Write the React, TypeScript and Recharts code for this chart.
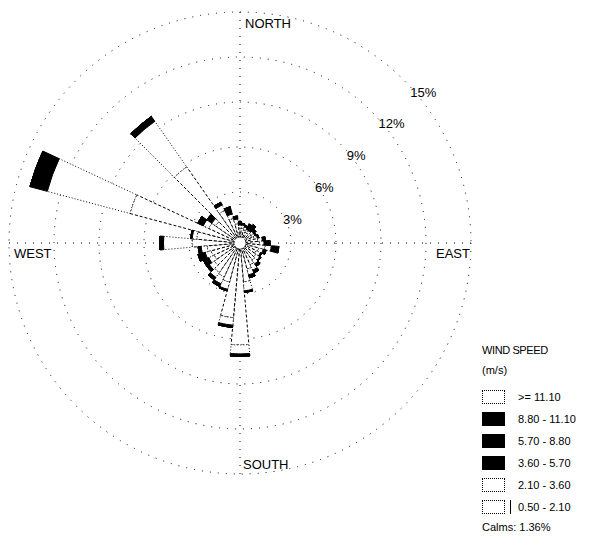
import React from 'react';
import { RadialBarChart, RadialBar, PolarAngleAxis, PolarRadiusAxis, PolarGrid, Legend } from 'recharts';

// Wind direction bins (degrees, blowing from)
const directions = [0, 10, 20, 30, 40, 50, 60, 70, 80, 90, 100, 110, 120, 130, 140, 150, 160, 170,
  180, 190, 200, 210, 220, 230, 240, 250, 260, 270, 280, 290, 300, 310, 320, 330, 340, 350];

// Frequency (%) per speed class, per direction
const speed0521 = [0.6, 0.6, 0.5, 0.4, 0.4, 0.5, 0.5, 0.6, 0.8, 0.9, 1.3, 0.9, 0.8, 0.9, 1.0, 1.2, 1.4, 2.2,
  6.4, 4.6, 2.3, 2.1, 2.0, 1.7, 1.5, 1.6, 1.8, 2.8, 2.5, 7.2, 1.9, 1.6, 5.8, 2.0, 1.3, 0.9];
const speed2136 = [0.2, 0.2, 0.2, 0.2, 0.2, 0.2, 0.2, 0.2, 0.3, 0.3, 0.4, 0.3, 0.3, 0.3, 0.3, 0.4, 0.4, 0.6,
  0.6, 0.5, 0.5, 0.5, 0.4, 0.4, 0.4, 0.4, 0.4, 1.9, 0.3, 5.7, 0.4, 0.3, 3.7, 0.4, 0.3, 0.3];
const speed3657 = [0.2, 0.1, 0.1, 0.3, 0.4, 0.2, 0.1, 0.1, 0.2, 0.3, 0.4, 0.2, 0.1, 0.1, 0.2, 0.2, 0.2, 0.1,
  0.15, 0.15, 0.1, 0.2, 0.2, 0.2, 0.4, 0.5, 0.2, 0.25, 0.1, 1.0, 0.4, 0.4, 0.4, 0.2, 0.5, 0.2];
const speed5788 = [0, 0, 0, 0.1, 0.1, 0, 0, 0, 0, 0.1, 0.1, 0, 0, 0, 0, 0, 0, 0,
  0, 0, 0, 0, 0, 0, 0, 0, 0, 0, 0, 0.2, 0, 0, 0, 0, 0, 0];
const speed88111 = [0, 0, 0, 0, 0, 0, 0, 0, 0, 0, 0, 0, 0, 0, 0, 0, 0, 0,
  0, 0, 0, 0, 0, 0, 0, 0, 0, 0, 0, 0, 0, 0, 0, 0, 0, 0];
const speed111 = [0, 0, 0, 0, 0, 0, 0, 0, 0, 0, 0, 0, 0, 0, 0, 0, 0, 0,
  0, 0, 0, 0, 0, 0, 0, 0, 0, 0, 0, 0, 0, 0, 0, 0, 0, 0];

const radiusTicks = [3, 6, 9, 12, 15];
const compassLabels: Record<number, string> = { 0: 'NORTH', 90: 'EAST', 180: 'SOUTH', 270: 'WEST' };
const legendTitle = 'WIND SPEED';
const legendUnit = '(m/s)';
const calmsText = 'Calms: 1.36%';

const speedClasses = [
  { key: 'c6', label: '>= 11.10', fill: '#fff', dash: '1 2' },
  { key: 'c5', label: '8.80 - 11.10', fill: '#000', dash: undefined },
  { key: 'c4', label: '5.70 - 8.80', fill: '#000', dash: undefined },
  { key: 'c3', label: '3.60 - 5.70', fill: '#000', dash: undefined },
  { key: 'c2', label: '2.10 - 3.60', fill: '#fff', dash: '1 2' },
  { key: 'c1', label: '0.50 - 2.10', fill: '#fff', dash: '3 2' },
];

const data = directions.map((d, i) => ({
  dir: d,
  c1: speed0521[i],
  c2: speed2136[i],
  c3: speed3657[i],
  c4: speed5788[i],
  c5: speed88111[i],
  c6: speed111[i],
}));

const FONT = "'Liberation Sans', Arial, sans-serif";
const CX = 232;
const CY = 235;
const OUTER = 231;

const polar = (r: number, bearing: number) => {
  const a = ((90 - bearing) * Math.PI) / 180;
  return { x: CX + r * Math.cos(a), y: CY - r * Math.sin(a) };
};

const compassOffsets: Record<number, { dx: number; dy: number; anchor: 'start' | 'end' }> = {
  0: { dx: 5, dy: 16, anchor: 'start' },
  90: { dx: -1, dy: 15, anchor: 'end' },
  180: { dx: 3, dy: -5, anchor: 'start' },
  270: { dx: 5, dy: 15, anchor: 'start' },
};

const CompassTick = (props: any) => {
  const { payload } = props;
  const label = compassLabels[payload.value];
  if (!label) return <g />;
  const off = compassOffsets[payload.value];
  const p = polar(OUTER, payload.value);
  return (
    <text x={p.x + off.dx} y={p.y + off.dy} textAnchor={off.anchor} fontFamily={FONT} fontSize={13} fill="#000">
      {label}
    </text>
  );
};

const RadiusTick = (props: any) => {
  const { x, y, payload } = props;
  return (
    <text x={x + 7} y={y + 17} textAnchor="start" fontFamily={FONT} fontSize={13} fill="#000">
      {`${payload.value}%`}
    </text>
  );
};

const LegendContent = () => (
  <div style={{ position: 'relative', width: 112, height: 200, fontFamily: FONT, fontSize: 11, color: '#000' }}>
    <div style={{ position: 'absolute', left: 0, top: 0, lineHeight: '14px', letterSpacing: -0.4 }}>{legendTitle}</div>
    <div style={{ position: 'absolute', left: 0, top: 20, lineHeight: '14px' }}>{legendUnit}</div>
    {speedClasses.map((c, i) => (
      <div key={c.key} style={{ position: 'absolute', left: 0, top: 47 + i * 22, height: 14, width: 112 }}>
        <div
          style={{
            position: 'absolute',
            left: 0,
            top: 0,
            width: 21,
            height: 12,
            background: c.fill,
            border: c.fill === '#000' ? '1px solid #000' : '1px dotted #000',
          }}
        />
        {c.key === 'c1' && (
          <div style={{ position: 'absolute', left: 28, top: 0, width: 1, height: 14, background: '#000' }} />
        )}
        <div style={{ position: 'absolute', left: 36, top: 0, lineHeight: '14px', whiteSpace: 'nowrap' }}>{c.label}</div>
      </div>
    ))}
    <div style={{ position: 'absolute', left: 0, top: 177, lineHeight: '14px', whiteSpace: 'nowrap' }}>{calmsText}</div>
  </div>
);

const stackOrder = ['c1', 'c2', 'c3', 'c4', 'c5', 'c6'];

export default function App() {
  return (
    <div style={{ width: 583, height: 532, background: '#fff' }}>
      <RadialBarChart
        width={583}
        height={532}
        cx={CX}
        cy={CY}
        innerRadius={6}
        outerRadius={OUTER}
        startAngle={85}
        endAngle={-275}
        data={data}
        layout="centric"
        barCategoryGap={0}
        margin={{ top: 0, right: 0, bottom: 0, left: 0 }}
      >
        <PolarGrid gridType="circle" polarAngles={[0, 90, 180, 270]} stroke="#000" strokeDasharray="1 7" />
        <PolarAngleAxis
          dataKey="dir"
          type="category"
          axisLine={false}
          tickLine={false}
          tickSize={0}
          tick={CompassTick}
        />
        <PolarRadiusAxis
          type="number"
          domain={[0, 15]}
          ticks={radiusTicks}
          angle={45}
          axisLine={false}
          tickLine={false}
          tick={RadiusTick}
        />
        {stackOrder.map((k) => {
          const c = speedClasses.find((s) => s.key === k)!;
          return (
            <RadialBar
              key={k}
              dataKey={k}
              stackId="wind"
              fill={c.fill}
              stroke="#000"
              strokeWidth={1}
              strokeDasharray={c.dash}
              isAnimationActive={false}
            />
          );
        })}
        <Legend
          content={LegendContent}
          wrapperStyle={{ position: 'absolute', left: 474, top: 335, width: 112, height: 200 }}
        />
      </RadialBarChart>
    </div>
  );
}
